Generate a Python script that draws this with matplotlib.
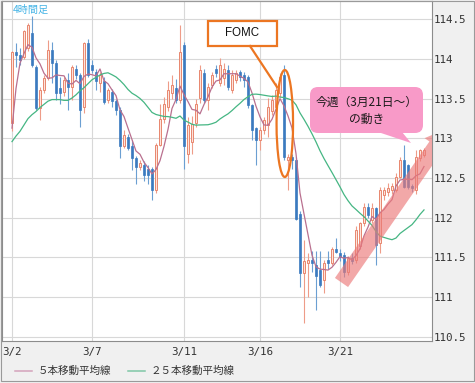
import numpy as np
import pandas as pd
import matplotlib
matplotlib.use("Agg")
import matplotlib.pyplot as plt
from matplotlib.patches import Rectangle, Ellipse, FancyBboxPatch, Polygon, FancyArrowPatch
from matplotlib.lines import Line2D
from matplotlib.transforms import Affine2D

# ---------------- data (USD/JPY, 4-hour candles) ----------------
opens = [113.19, 114.09, 114.05, 114.03, 114.14, 114.33, 113.90, 113.38, 113.61, 113.76,
         114.12, 113.95, 113.63, 113.59, 113.74, 113.65, 113.88, 113.80, 113.40, 114.20,
         113.93, 113.84, 113.70, 113.72, 113.49, 113.59, 113.47, 113.36, 112.90, 113.02,
         112.90, 112.75, 112.64, 112.67, 112.62, 112.62, 112.35, 112.92, 113.25, 113.40,
         113.57, 113.63, 113.49, 114.18, 112.81, 112.95, 113.19, 113.51, 113.82, 113.49,
         113.68, 113.88, 113.70, 113.76, 113.86, 113.61, 113.74, 113.84, 113.80, 113.78,
         113.42, 113.13, 112.98, 113.11, 113.17, 113.34, 113.40, 113.57, 113.80, 112.73,
         112.77, 112.73, 112.05, 111.30, 111.43, 111.47, 111.40, 111.34, 111.22, 111.47,
         111.43, 111.61, 111.55, 111.53, 111.32, 111.49, 111.47, 111.64, 111.93, 112.14,
         111.97, 112.12, 111.68, 112.29, 112.33, 112.35, 112.35, 112.52, 112.73, 112.66,
         112.40, 112.35, 112.75, 112.79]
highs = [114.10, 114.20, 114.14, 114.37, 114.46, 114.54, 113.93, 113.65, 113.80, 114.24,
         114.22, 113.99, 113.78, 113.78, 113.82, 113.93, 113.92, 113.82, 114.22, 114.26,
         113.99, 113.88, 113.84, 113.78, 113.63, 113.62, 113.50, 113.40, 113.11, 113.06,
         112.98, 112.78, 112.73, 112.71, 112.66, 112.64, 112.94, 113.44, 113.52, 113.72,
         113.80, 113.75, 114.43, 114.22, 113.27, 113.28, 113.50, 113.93, 113.88, 113.70,
         113.84, 113.92, 114.01, 113.95, 113.93, 113.86, 113.86, 113.86, 113.84, 113.80,
         113.44, 113.15, 113.15, 113.27, 113.51, 113.55, 113.70, 113.82, 113.93, 112.80,
         112.80, 112.76, 112.08, 111.72, 111.55, 111.58, 111.58, 111.58, 111.47, 111.58,
         111.63, 111.74, 111.60, 111.57, 111.52, 111.55, 111.89, 111.95, 112.18, 112.19,
         112.18, 112.14, 112.39, 112.39, 112.44, 112.44, 112.56, 112.77, 112.92, 112.68,
         112.43, 112.85, 112.87, 112.88]
lows = [113.09, 113.90, 113.93, 114.00, 114.10, 113.90, 113.36, 113.23, 113.57, 113.74,
        113.70, 113.49, 113.44, 113.53, 113.36, 113.49, 113.75, 113.15, 113.32, 113.78,
        113.82, 113.61, 113.59, 113.44, 113.45, 113.40, 113.30, 112.75, 112.88, 112.85,
        112.60, 112.43, 112.60, 112.46, 112.42, 112.23, 112.31, 112.90, 113.20, 113.35,
        113.50, 113.45, 113.45, 112.62, 112.69, 112.80, 113.15, 113.45, 113.45, 113.36,
        113.64, 113.78, 113.66, 113.68, 113.61, 113.57, 113.70, 113.72, 113.65, 113.38,
        112.98, 112.67, 112.85, 113.06, 113.02, 113.30, 113.36, 113.52, 112.73, 112.35,
        112.62, 111.97, 111.13, 110.67, 111.00, 111.32, 110.84, 111.13, 111.05, 111.36,
        111.40, 111.55, 111.45, 111.25, 111.28, 111.42, 111.43, 111.60, 111.90, 112.00,
        111.93, 111.40, 111.55, 112.22, 112.28, 112.30, 112.32, 112.50, 112.38, 112.36,
        112.33, 112.30, 112.72, 112.76]
closes = [114.09, 114.05, 113.99, 114.35, 114.43, 113.93, 113.38, 113.61, 113.76, 114.12,
          113.95, 113.57, 113.57, 113.74, 113.65, 113.90, 113.80, 113.36, 114.20, 113.80,
          113.86, 113.72, 113.80, 113.46, 113.61, 113.47, 113.36, 112.90, 113.04, 112.88,
          112.75, 112.64, 112.69, 112.54, 112.54, 112.35, 112.92, 113.25, 113.44, 113.61,
          113.67, 113.49, 114.09, 112.90, 113.17, 113.18, 113.44, 113.86, 113.49, 113.65,
          113.80, 113.82, 113.93, 113.88, 113.65, 113.80, 113.82, 113.78, 113.74, 113.42,
          113.11, 112.98, 113.11, 113.23, 113.40, 113.49, 113.61, 113.78, 112.77, 112.77,
          112.73, 111.99, 111.30, 111.45, 111.47, 111.43, 111.26, 111.15, 111.43, 111.43,
          111.61, 111.57, 111.51, 111.32, 111.49, 111.45, 111.85, 111.93, 112.14, 112.04,
          112.12, 111.66, 112.35, 112.35, 112.38, 112.40, 112.52, 112.73, 112.39, 112.39,
          112.37, 112.77, 112.85, 112.85]
# moving-average values at the left edge (their earlier candles are off-chart)
ma5_head = [113.13, 113.63, 113.95, 114.07]
ma25_head = [112.96, 113.03, 113.09, 113.17, 113.25, 113.30, 113.34, 113.39, 113.43, 113.47,
             113.49, 113.49, 113.49, 113.48, 113.48, 113.51, 113.55, 113.60, 113.64, 113.69,
             113.74, 113.77, 113.80, 113.82]
tick_pos = [0, 20, 43, 62, 82]
tick_labels = ["3/2", "3/7", "3/11", "3/16", "3/21"]
y_ticks = [110.5, 111.0, 111.5, 112.0, 112.5, 113.0, 113.5, 114.0, 114.5]
y_labels = ["110.5", "111", "111.5", "112", "112.5", "113", "113.5", "114", "114.5"]

# ---------------- figure ----------------
W, H = 475, 383
fig = plt.figure(figsize=(W / 100, H / 100), dpi=100)
fig.patch.set_facecolor("#f0f0f0")
pix = Affine2D().scale(1 / W, -1 / H).translate(0, 1) + fig.transFigure

ax = fig.add_axes([2 / W, (H - 341) / H, 430 / W, 340 / H])
ax.set_facecolor("white")

o = np.array(opens); h = np.array(highs); l = np.array(lows); c = np.array(closes)
x = np.arange(len(c))
up = c >= o

UP_EDGE = "#e8866e"; UP_FACE = "#fde4dc"; UP_WICK = "#ee9c88"
DN = "#3b7abf"; DN_WICK = "#6b9fd2"

ax.vlines(x[up], l[up], h[up], color=UP_WICK, lw=0.8, zorder=2)
ax.vlines(x[~up], l[~up], h[~up], color=DN_WICK, lw=0.8, zorder=2)
body_lo = np.minimum(o, c)
body_h = np.maximum(np.abs(c - o), 0.012)
ax.bar(x[up], body_h[up], bottom=body_lo[up], width=0.72, color=UP_FACE,
       edgecolor=UP_EDGE, linewidth=0.7, zorder=2.5)
ax.bar(x[~up], body_h[~up], bottom=body_lo[~up], width=0.72, color=DN,
       edgecolor=DN, linewidth=0.5, zorder=2.5)

s = pd.Series(closes)
ma5 = s.rolling(5).mean().to_numpy()
ma5[:len(ma5_head)] = ma5_head
ma25 = s.rolling(25).mean().to_numpy()
ma25[:len(ma25_head)] = ma25_head

C5 = "#b9708f"; C25 = "#45b683"
ax.plot(x, ma5, color=C5, lw=0.9, zorder=3)
ax.plot(x, ma25, color=C25, lw=0.9, zorder=3)

ax.set_xlim(-2.5, 105)
ax.set_ylim(110.446, 114.733)
ax.set_xticks(tick_pos)
ax.set_xticklabels(tick_labels)
ax.set_yticks(y_ticks)
ax.set_yticklabels(y_labels)
ax.yaxis.tick_right()
ax.tick_params(axis="both", length=0, labelsize=7.8, labelcolor="#333333")
ax.tick_params(axis="y", pad=1.5)
ax.tick_params(axis="x", pad=4)
for t in ax.get_xticklabels() + ax.get_yticklabels():
    t.set_family("DejaVu Sans Mono")
ax.grid(True, color="#d8d8d8", lw=0.8)
ax.set_axisbelow(True)
for sp in ax.spines.values():
    sp.set_color("#8c8c8c")
    sp.set_linewidth(0.8)

# ---------------- annotations ----------------
ax.text(13, 10, "4時間足", transform=pix, family=["Noto Sans CJK JP", "DejaVu Sans"],
        fontsize=7.3, color="#45b4e6", va="center", ha="left", zorder=6)

ORANGE = "#ec7622"
ax.add_artist(Rectangle((208, 20.5), 69, 25.5, transform=pix, facecolor="white",
                        edgecolor=ORANGE, lw=1.6, zorder=6, clip_on=False))
ax.text(242.5, 33.5, "FOMC", transform=pix, family="Liberation Sans", fontsize=8.3,
        color="#111111", ha="center", va="center", zorder=7)
ax.add_artist(Line2D([250, 277], [46, 87], transform=pix, color=ORANGE, lw=1.6, zorder=6))
ax.add_artist(Ellipse((284.8, 123.5), 16.5, 107, transform=pix, fill=False,
                      edgecolor=ORANGE, lw=1.6, zorder=6))

arrow = FancyArrowPatch((341.5, 282.5), (448.5, 128), transform=pix,
                        arrowstyle="simple,head_length=15.8,head_width=20,tail_width=11.5",
                        mutation_scale=1, shrinkA=0, shrinkB=0, color="#ec7a7a",
                        alpha=0.65, lw=0, zorder=4)
ax.add_artist(arrow)

PINK = "#f89ac8"
ax.add_artist(FancyBboxPatch((310, 87), 113, 46, transform=pix,
                             boxstyle="round,pad=0,rounding_size=8",
                             facecolor=PINK, edgecolor="none", zorder=6))
ax.add_artist(Polygon([(378, 132), (402, 132), (411, 143)], closed=True, transform=pix,
                      facecolor=PINK, edgecolor="none", zorder=6))
ax.text(366.5, 102, "今週（3月21日～）", transform=pix,
        family=["Noto Sans CJK JP", "DejaVu Sans"], fontsize=8.5, color="#1a1a1a",
        ha="center", va="center", zorder=7)
ax.text(366.5, 119, "の動き", transform=pix,
        family=["Noto Sans CJK JP", "DejaVu Sans"], fontsize=8.5, color="#1a1a1a",
        ha="center", va="center", zorder=7)

# ---------------- legend ----------------
fig.add_artist(Line2D([15, 32], [370.5, 370.5], transform=pix, color="#d4a3bb", lw=1.1))
fig.text(38, 370.5, "５本移動平均線", transform=pix, family=["Noto Sans CJK JP", "DejaVu Sans"],
         fontsize=7.6, color="#333333", va="center", ha="left")
fig.add_artist(Line2D([128, 145], [370.5, 370.5], transform=pix, color="#7fc7a6", lw=1.1))
fig.text(151, 370.5, "２５本移動平均線", transform=pix, family=["Noto Sans CJK JP", "DejaVu Sans"],
         fontsize=7.6, color="#333333", va="center", ha="left")

# outer frame
fig.add_artist(Rectangle((1, 0.5), 473, 380.5, transform=pix, fill=False,
                         edgecolor="#9a9a9a", lw=0.8))

fig.savefig("out.png", dpi=100, facecolor=fig.get_facecolor())
